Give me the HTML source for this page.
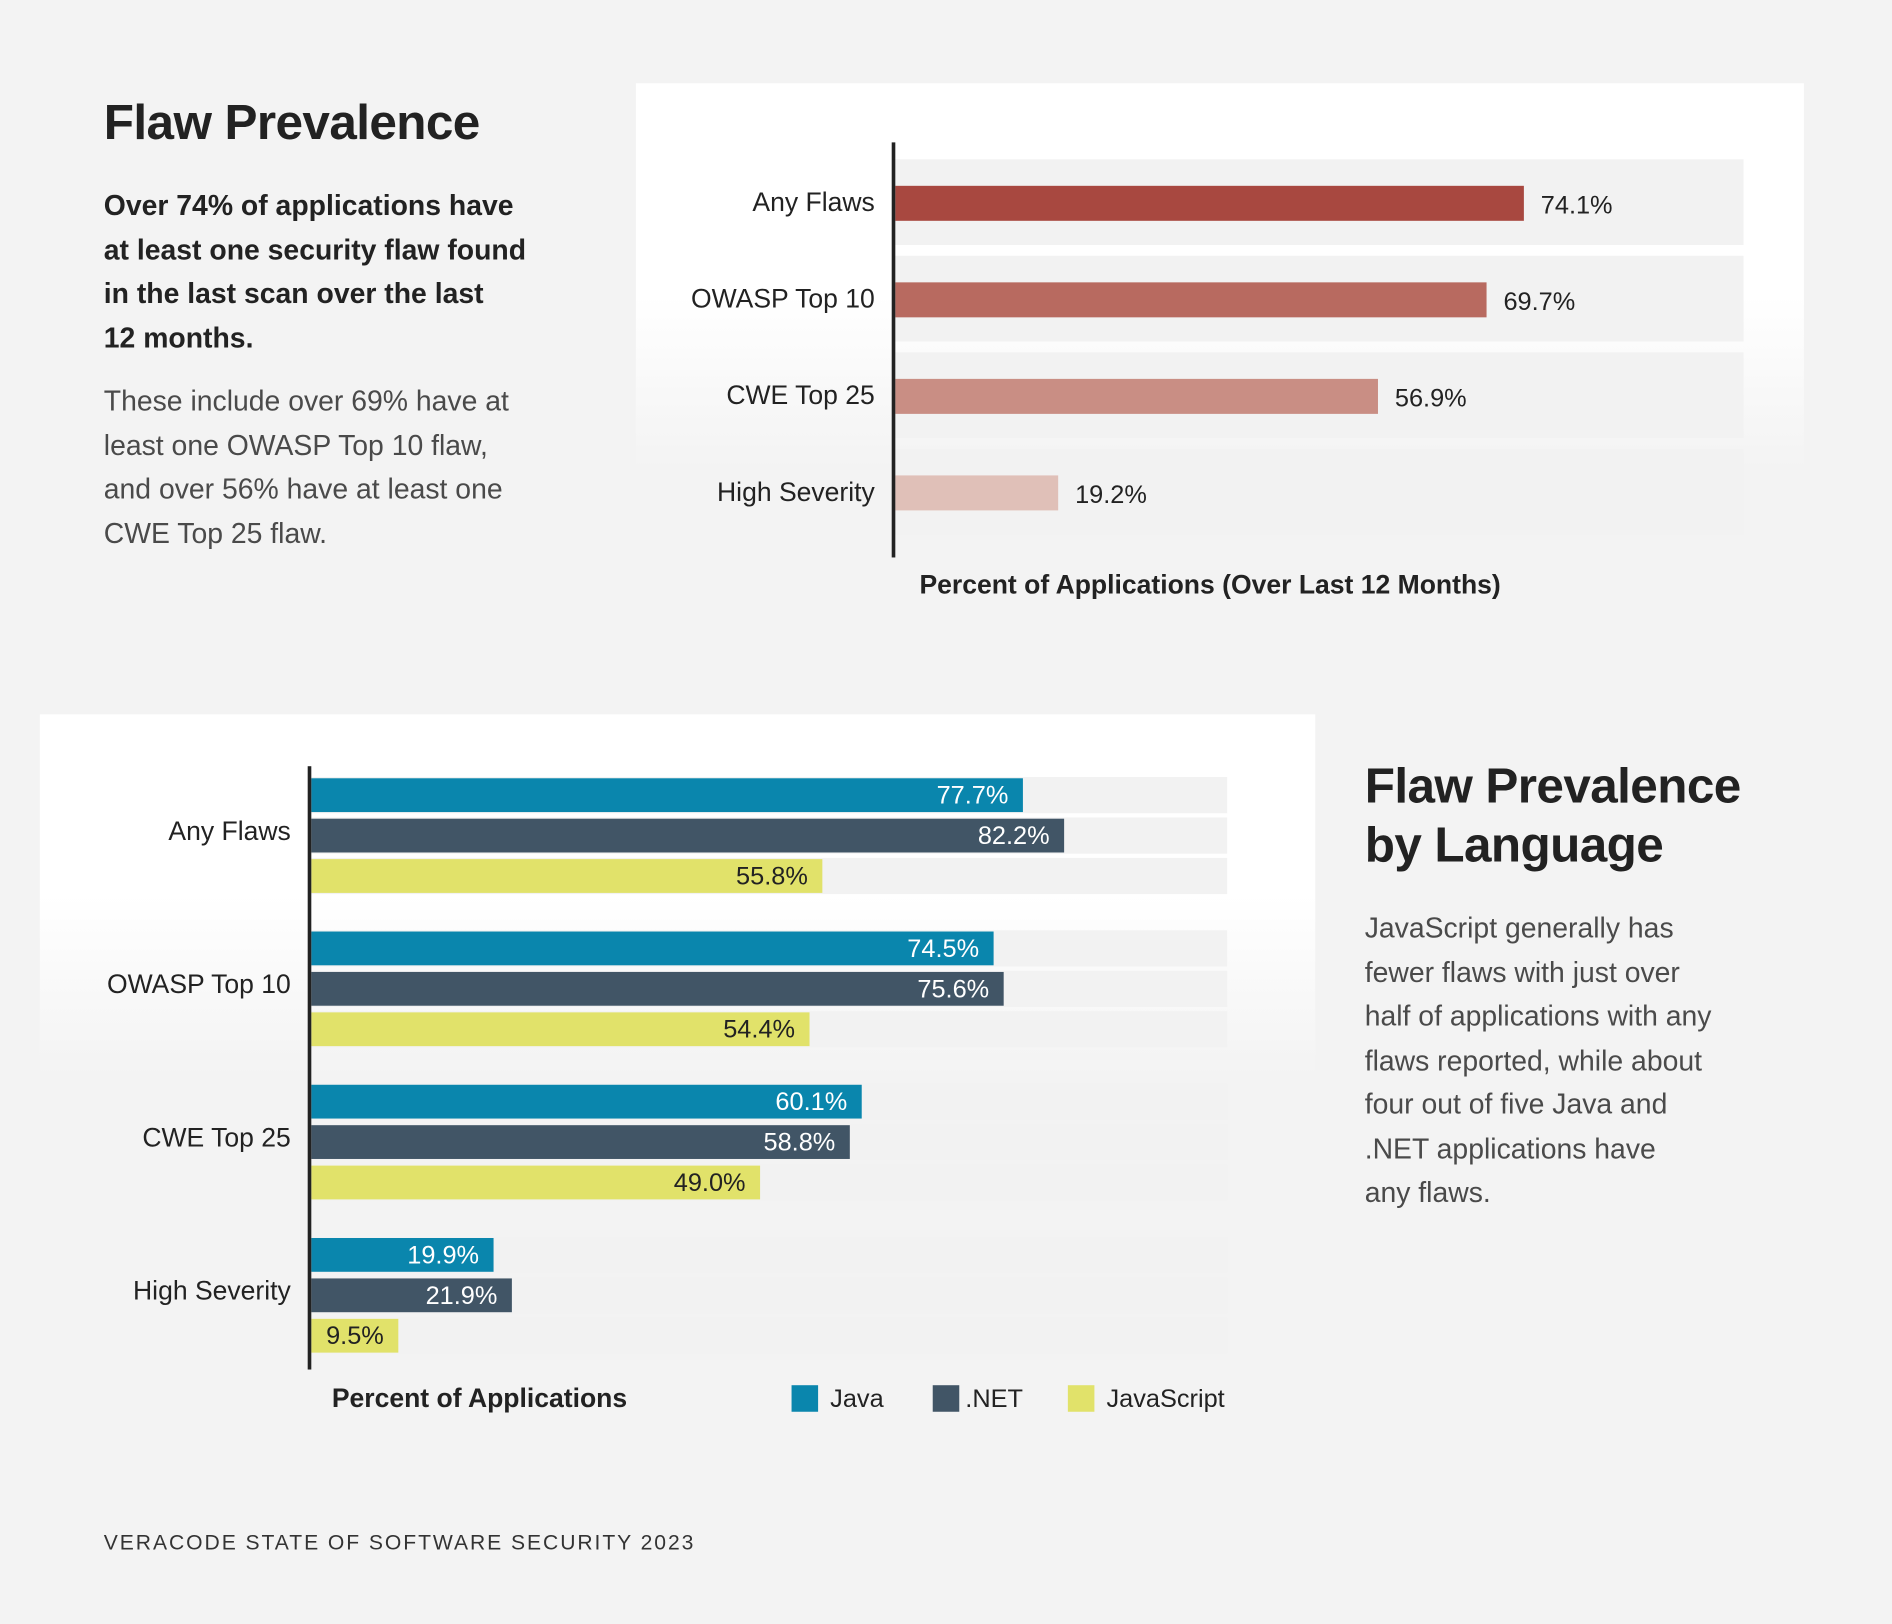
<!DOCTYPE html>
<html><head><meta charset="utf-8">
<style>
html,body{margin:0;padding:0;background:#f3f3f3;overflow:hidden}
#root{position:absolute;left:0;top:0;width:1568px;height:1346px;transform:scale(1.20663);transform-origin:0 0;background:#f3f3f3;font-family:"Liberation Sans",sans-serif;color:#222}
.abs{position:absolute}
.h1{font-size:41px;font-weight:bold;color:#222;letter-spacing:-0.5px}
.bp{font-size:23.5px;font-weight:bold;line-height:36.5px;color:#222;white-space:nowrap}
.lp{font-size:23.5px;line-height:36.5px;color:#4a4a4a;white-space:nowrap}
</style></head><body>
<div id="root">
<div class="abs h1" style="left:86px;top:78px">Flaw Prevalence</div>
<div class="abs bp" style="left:86px;top:152px">Over 74% of applications have<br>at least one security flaw found<br>in the last scan over the last<br>12 months.</div>
<div class="abs lp" style="left:86px;top:314px">These include over 69% have at<br>least one OWASP Top 10 flaw,<br>and over 56% have at least one<br>CWE Top 25 flaw.</div>

<div class="abs" style="left:527px;top:69px;width:968px;height:320px;background:linear-gradient(#fff 0%,#fff 55%,#f3f3f3 100%)"></div>
<svg class="abs" id="top" style="left:0;top:0" width="1568" height="560"></svg>

<div class="abs" style="left:33px;top:592px;width:1057px;height:300px;background:linear-gradient(#fff 0%,#fff 50%,#f3f3f3 100%)"></div>
<svg class="abs" id="bot" style="left:0;top:560px" width="1568" height="660"></svg>

<div class="abs h1" style="left:1131px;top:627px;line-height:49px">Flaw Prevalence<br>by Language</div>
<div class="abs lp" style="left:1131px;top:751px">JavaScript generally has<br>fewer flaws with just over<br>half of applications with any<br>flaws reported, while about<br>four out of five Java and<br>.NET applications have<br>any flaws.</div>
<div class="abs" style="left:86px;top:1268px;font-size:17.5px;letter-spacing:1.6px;color:#333">VERACODE STATE OF SOFTWARE SECURITY 2023</div>
</div>
<script>
const topCats=["Any Flaws","OWASP Top 10","CWE Top 25","High Severity"];
const topVals=[74.1,69.7,56.9,19.2];
const topColors=["#a84840","#b86a60","#c98e84","#e0c0b8"];
const botCats=["Any Flaws","OWASP Top 10","CWE Top 25","High Severity"];
const javaVals=[77.7,74.5,60.1,19.9];
const netVals=[82.2,75.6,58.8,21.9];
const jsVals=[55.8,54.4,49.0,9.5];
const seriesNames=["Java",".NET","JavaScript"];
const seriesColors=["#0a86ad","#415566","#e1e26a"];
const NS="http://www.w3.org/2000/svg";
function mk(p,t,a,txt){const e=document.createElementNS(NS,t);for(const k in a)e.setAttribute(k,a[k]);if(txt!=null)e.textContent=txt;p.appendChild(e);return e;}
const T=document.getElementById('top');
const tx=v=>742+v*7.03;
topCats.forEach((c,i)=>{
  const y0=132+i*80;
  const bg=mk(T,'rect',{x:742,y:y0,width:703,height:71,fill:'#f2f2f2'});
  
  
  const b=mk(T,'rect',{x:742,y:y0+22,width:tx(topVals[i])-742,height:29,fill:topColors[i]});
  
  
  const l=mk(T,'text',{x:725,y:y0+43,'text-anchor':'end','font-size':22,fill:'#222'},c);
  
  
  const v=mk(T,'text',{x:tx(topVals[i])+14,y:y0+45,'font-size':21,fill:'#222'},topVals[i].toFixed(1)+'%');
  
  
});
const ax=mk(T,'rect',{x:739,y:118,width:3,height:344,fill:'#222'});


const tt=mk(T,'text',{x:762,y:492,'font-size':22,'font-weight':'bold',fill:'#222'},'Percent of Applications (Over Last 12 Months)');


const B=document.getElementById('bot');
const bx=v=>258+v*7.59;
const all=[javaVals,netVals,jsVals];
botCats.forEach((c,i)=>{
  const g0=644-560+i*127;
  for(let s=0;s<3;s++){
    const y=g0+s*33.5;
    const bg=mk(B,'rect',{x:258,y:y,width:759,height:30,fill:'#f2f2f2'});
    
    
    const v=all[s][i];
    const b=mk(B,'rect',{x:258,y:y+1,width:bx(v)-258,height:28,fill:seriesColors[s]});
    
    
    const t=mk(B,'text',{x:bx(v)-12,y:y+22,'text-anchor':'end','font-size':21,fill:s<2?'#fff':'#222'},v.toFixed(1)+'%');
    
    
  }
  const l=mk(B,'text',{x:241,y:g0+52,'text-anchor':'end','font-size':22,fill:'#222'},c);
  
  
});
const ax2=mk(B,'rect',{x:255,y:635-560,width:3,height:500,fill:'#222'});


const bt=mk(B,'text',{x:275,y:1166-560,'font-size':22,'font-weight':'bold',fill:'#222'},'Percent of Applications');


const lx=[656,773,885];
seriesNames.forEach((n,s)=>{
  const r=mk(B,'rect',{x:lx[s],y:1148-560,width:22,height:22,fill:seriesColors[s]});
  
  
  const t=mk(B,'text',{x:lx[s]+(s==1?27:32),y:1166-560,'font-size':21,fill:'#222'},n);
  
  
});
</script>
</body></html>
